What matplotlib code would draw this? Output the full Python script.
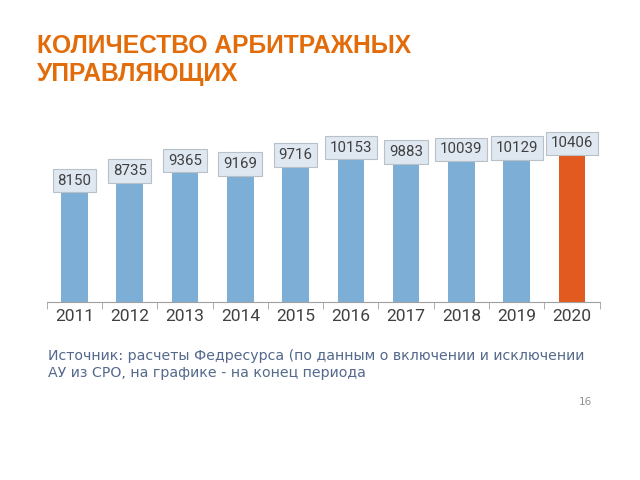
import matplotlib.pyplot as plt

years = ['2011', '2012', '2013', '2014', '2015', '2016', '2017', '2018', '2019', '2020']
values = [8150, 8735, 9365, 9169, 9716, 10153, 9883, 10039, 10129, 10406]

blue = '#7DAFD6'
orange = '#E35A20'
colors = [blue] * (len(values) - 1) + [orange]

fig = plt.figure(figsize=(6.4, 4.8), dpi=100)
ax = fig.add_axes([0.073, 0.371, 0.864, 0.36])

x = range(len(years))
ax.bar(x, values, width=0.48, color=colors, zorder=2)
ax.set_xlim(-0.5, len(years) - 0.5)
ax.set_ylim(1300, 11800)

for i, v in enumerate(values):
    ax.text(i, v + 100, str(v), ha='center', va='bottom', fontsize=10.8,
            color='#404040', family='Roboto', zorder=3,
            bbox=dict(boxstyle='square,pad=0.32', fc='#DFE7F1', ec='#B8C0C8', lw=0.8))

for s in ['top', 'right', 'left']:
    ax.spines[s].set_visible(False)
ax.spines['bottom'].set_color('#A0A0A0')
ax.set_yticks([])
ax.set_xticks(x)
ax.set_xticklabels(years, fontsize=12.5, color='#404040', family='Roboto')
ax.tick_params(axis='x', length=0, pad=5)
ax.set_xticks([i - 0.5 for i in range(len(years) + 1)], minor=True)
ax.tick_params(axis='x', which='minor', length=5, color='#A0A0A0')

fig.text(0.058, 0.93, 'КОЛИЧЕСТВО АРБИТРАЖНЫХ\nУПРАВЛЯЮЩИХ', ha='left', va='top',
         fontsize=17.7, fontweight='bold', color='#E36C0A', family='Liberation Sans',
         linespacing=1.25)

fig.text(0.075, 0.273, 'Источник: расчеты Федресурса (по данным о включении и исключении\n'
         'АУ из СРО, на графике - на конец периода', ha='left', va='top',
         fontsize=10.2, color='#55698C', linespacing=1.3)

fig.text(0.925, 0.162, '16', ha='right', va='center', fontsize=7.5, color='#909090')

fig.savefig('out.png', dpi=100)
